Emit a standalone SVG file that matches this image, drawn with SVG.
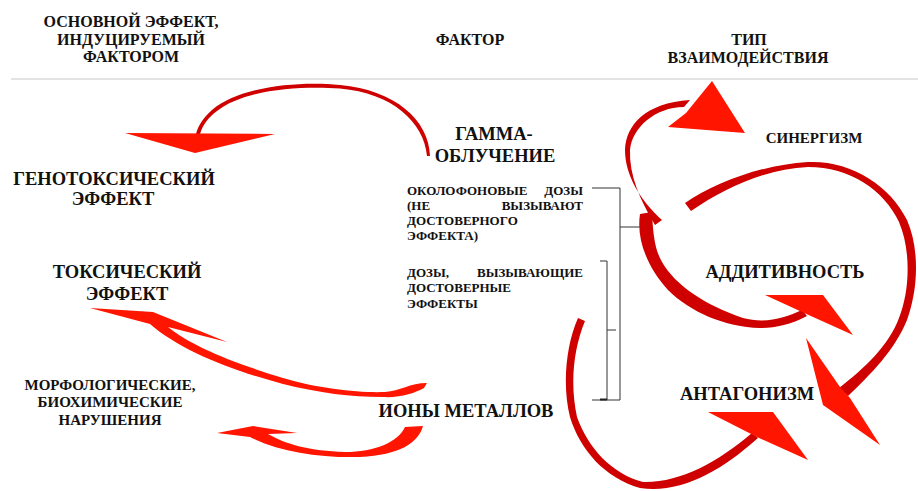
<svg xmlns="http://www.w3.org/2000/svg" width="918" height="491" viewBox="0 0 918 491">
<style>
text{font-family:"Liberation Serif","Times New Roman",serif;font-weight:bold;fill:#111}
.hd{font-size:16px;text-anchor:middle}
.lb{font-size:18.5px;text-anchor:middle}
.sm{font-size:15px;text-anchor:middle}
.ds{font-size:13px}
.band{fill:#cf0000}
.head{fill:#ff1500}
.br{fill:none;stroke:#333;stroke-width:1}
</style>
<rect width="918" height="491" fill="#fff"/>
<line x1="11" y1="79" x2="918" y2="79" stroke="#c8c8c8" stroke-width="1.2"/>
<g id="header">
<text class="hd" x="131" y="27">ОСНОВНОЙ ЭФФЕКТ,</text>
<text class="hd" x="131" y="45">ИНДУЦИРУЕМЫЙ</text>
<text class="hd" x="131" y="62">ФАКТОРОМ</text>
<text class="hd" x="470" y="45">ФАКТОР</text>
<text class="hd" x="749" y="45">ТИП</text>
<text class="hd" x="748" y="63">ВЗАИМОДЕЙСТВИЯ</text>
</g>
<g id="genotoxic"><text class="lb" x="114" y="185">ГЕНОТОКСИЧЕСКИЙ</text><text class="lb" x="113" y="205">ЭФФЕКТ</text></g>
<g id="toxic"><text class="lb" x="127" y="278">ТОКСИЧЕСКИЙ</text><text class="lb" x="127" y="300">ЭФФЕКТ</text></g>
<g id="morpho"><text class="sm" x="110" y="390">МОРФОЛОГИЧЕСКИЕ,</text><text class="sm" x="110" y="407">БИОХИМИЧЕСКИЕ</text><text class="sm" x="110" y="425">НАРУШЕНИЯ</text></g>
<g id="gamma"><text class="lb" x="494" y="140">ГАММА-</text><text class="lb" x="495" y="162">ОБЛУЧЕНИЕ</text></g>
<g id="low-doses">
<text class="ds" x="407" y="195">ОКОЛОФОНОВЫЕ</text><text class="ds" x="583" y="195" text-anchor="end">ДОЗЫ</text>
<text class="ds" x="407" y="210">(НЕ</text><text class="ds" x="583" y="210" text-anchor="end">ВЫЗЫВАЮТ</text>
<text class="ds" x="407" y="225">ДОСТОВЕРНОГО</text>
<text class="ds" x="407" y="240">ЭФФЕКТА)</text>
</g>
<g id="eff-doses">
<text class="ds" x="407" y="277">ДОЗЫ,</text><text class="ds" x="583" y="277" text-anchor="end">ВЫЗЫВАЮЩИЕ</text>
<text class="ds" x="407" y="292">ДОСТОВЕРНЫЕ</text>
<text class="ds" x="407" y="308">ЭФФЕКТЫ</text>
</g>
<g id="ions"><text class="lb" x="466" y="417">ИОНЫ МЕТАЛЛОВ</text></g>
<g id="synergism"><text class="sm" x="814" y="143" font-size="16">СИНЕРГИЗМ</text></g>
<g id="additivity"><text class="lb" x="785" y="278">АДДИТИВНОСТЬ</text></g>
<g id="antagonism"><text class="lb" x="747" y="400">АНТАГОНИЗМ</text></g>
<g id="connectors">
<path class="br" d="M592,188H620V400H592M620,227H652M600,261H607V400M607,330H616"/>
<path d="M600,399.5H607" stroke="#222" stroke-width="2"/>
<path class="band" d="M430,156C429,120 395,90 340,85C300,81 240,86 212,110C203,118 198,126 196,134L200,134C203,124 209,117 217,111C245,89 300,86 340,88.5C392,93 424,122 427,156Z"/>
<polygon class="head" points="125,133 275,134 195,153"/>
<path class="head" d="M90,308L153,312L227,342L168,327C190,345 230,362 283,378C320,389 360,393 385,392C400,391 410,383 427,383L424,388C415,393 400,398 383,397C350,397 320,393 283,384C230,370 180,350 150,324Z"/>
<path class="head" d="M217,433L253,426L297,433L268,434C285,444 310,451 345,452C375,452 398,442 405,427L423,426C418,443 400,455 360,457C320,458 280,452 250,437Z"/>
<path class="band" d="M578,318C566,345 562,385 570,417C580,450 605,478 640,488C680,494 720,472 758,438L752,433C718,462 680,483 643,482C612,474 588,448 577,417C570,385 573,350 585,321Z"/>
<polygon class="head" points="708,412 773,412 808,460 757,437"/>
<path class="band" d="M662,220C640,200 625,175 625,150C626,125 645,103 690,100L684,107C655,107 632,128 630,150C629,175 640,200 655,225Z"/>
<polygon class="head" points="712,81 745,133 668,127 686,113"/>
<path class="band" d="M640,214L652,212C653,235 655,250 662,262C675,285 705,305 743,318C765,324 785,318 802,310L807,316C790,325 775,328 760,328C725,327 690,312 668,290C648,268 636,240 640,214Z"/>
<polygon class="head" points="765,295 823,295 853,335 802,312"/>
<path class="band" d="M685,203C715,183 760,165 808,162C850,160 890,185 907,220C920,250 918,290 907,320C895,350 870,375 848,396L839,388C865,368 889,345 899,318C910,290 911,250 899,222C884,190 850,167 808,167C765,169 725,188 691,211Z"/>
<polygon class="head" points="806,338 840,387 850,398 880,445 823,405"/>
</g>
</svg>
